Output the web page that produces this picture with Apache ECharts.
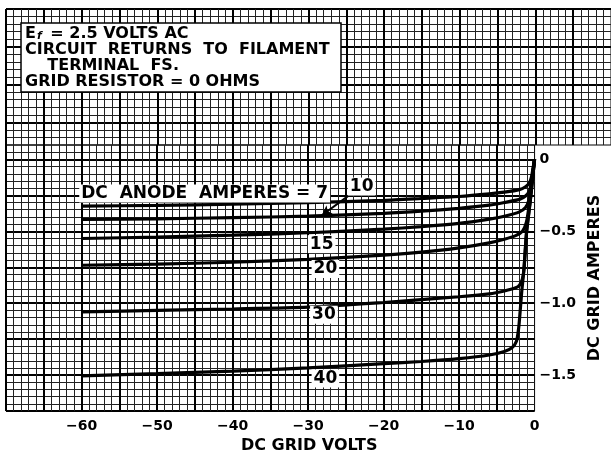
<!DOCTYPE html>
<html><head><meta charset="utf-8">
<script src="https://cdn.jsdelivr.net/npm/echarts@6/dist/echarts.min.js"></script>
<style>html,body{margin:0;padding:0;background:#fff}#c{width:611px;height:459px}</style>
</head><body><div id="c"></div>
<script>
// ---- data (DC grid volts, DC grid amperes) ----
const anodeAmperes = [7, 10, 15, 20, 30, 40];
const curve7  = [[-60,-0.325],[-50,-0.32],[-40,-0.312],[-30,-0.30],[-20,-0.285],[-15,-0.272],[-10,-0.258],[-6,-0.24],[-4,-0.228],[-2,-0.21],[-1.2,-0.19],[-0.7,-0.165],[-0.4,-0.12],[-0.2,-0.06],[0,0]];
const curve10 = [[-60,-0.418],[-50,-0.413],[-40,-0.405],[-30,-0.395],[-20,-0.375],[-15,-0.36],[-10,-0.34],[-6,-0.318],[-4,-0.30],[-2,-0.278],[-1.2,-0.255],[-0.7,-0.22],[-0.4,-0.16],[-0.2,-0.08],[0,0]];
const curve15 = [[-60,-0.55],[-50,-0.54],[-40,-0.527],[-30,-0.51],[-20,-0.485],[-15,-0.468],[-10,-0.445],[-6,-0.415],[-4,-0.395],[-2,-0.365],[-1.2,-0.335],[-0.8,-0.29],[-0.5,-0.2],[-0.25,-0.1],[0,0]];
const curve20 = [[-60,-0.736],[-50,-0.728],[-40,-0.715],[-30,-0.695],[-20,-0.665],[-15,-0.645],[-10,-0.615],[-6,-0.58],[-4,-0.555],[-2.5,-0.53],[-1.6,-0.5],[-1.1,-0.44],[-0.8,-0.35],[-0.5,-0.22],[-0.25,-0.1],[0,0]];
const curve30 = [[-60,-1.06],[-50,-1.05],[-40,-1.04],[-30,-1.027],[-20,-0.995],[-15,-0.975],[-10,-0.955],[-6,-0.935],[-4,-0.915],[-2.5,-0.893],[-2,-0.875],[-1.6,-0.83],[-1.4,-0.76],[-1.05,-0.5],[-0.55,-0.28],[0,0]];
const curve40 = [[-60,-1.505],[-50,-1.49],[-40,-1.472],[-30,-1.45],[-20,-1.42],[-15,-1.405],[-10,-1.385],[-6,-1.36],[-4,-1.335],[-3,-1.31],[-2.4,-1.265],[-2.1,-1.17],[-1.9,-1.05],[-1.7,-0.92],[-1.4,-0.76],[-1.05,-0.5],[-0.55,-0.28],[0,0]];
const curves = [curve7, curve10, curve15, curve20, curve30, curve40];

const labelTexts = ['DC  ANODE  AMPERES = 7', '10', '15', '20', '30', '40'];
const labelX = [-60.3, -22.9, -28.2, -27.7, -27.9, -27.7];
const labelY = [-0.238, -0.189, -0.589, -0.762, -1.08, -1.523];
const arrowFrom = [-24.4, -0.243];
const arrowTo = [-28.2, -0.39];

const noteLines = ['{t|E}{s|f}{t| = 2.5 VOLTS AC}', '{t|CIRCUIT  RETURNS  TO  FILAMENT}', '{t|    TERMINAL  FS.}', '{t|GRID RESISTOR = 0 OHMS}'];
const xName = 'DC GRID VOLTS';
const yName = 'DC GRID AMPERES';

// ---- styling ----
const FONT = 'DejaVu Sans';
const MAJOR = {show: true, lineStyle: {color: '#000', width: 2}, showMaxLine: false};
const MINOR = {show: true, lineStyle: {color: '#222', width: 1}};
const minorTick = {show: false, splitNumber: 5};

function gridAxis(extra) {
  return Object.assign({
    type: 'value', axisLine: {show: false}, axisTick: {show: false},
    axisLabel: {show: false}, splitLine: MAJOR, minorTick: minorTick, minorSplitLine: MINOR
  }, extra);
}

const xFmt = v => {
  if (v < -60.01 || v > 0.01 || Math.abs(v % 10) > 1e-6) return '';
  return v === 0 ? '0' : '\u2212' + Math.abs(v);
};
const yFmt = v => {
  const r = Math.round(v * 100) / 100;
  if (r > 0.001 || Math.abs(r * 2 - Math.round(r * 2)) > 1e-6) return '';
  return r === 0 ? '0' : '\u2212' + Math.abs(r).toFixed(1);
};

const series = curves.map((c, i) => ({
  name: String(anodeAmperes[i]), type: 'line', xAxisIndex: 1, yAxisIndex: 1,
  data: c, showSymbol: false, symbol: 'none', smooth: 0.25,
  lineStyle: {color: '#000', width: 3.2}, z: 3
}));
series.push({
  type: 'scatter', xAxisIndex: 1, yAxisIndex: 1, symbolSize: 0, z: 5,
  itemStyle: {opacity: 1, color: '#000'},
  data: labelX.map((x, i) => ({value: [x, labelY[i]], label: {position: i === 0 ? 'right' : 'inside', distance: 0}})),
  label: {
    show: true, formatter: p => labelTexts[p.dataIndex],
    fontFamily: FONT, fontWeight: 'bold', fontSize: 17, color: '#000', opacity: 1,
    backgroundColor: '#fff', padding: [1, 2, 0, 2]
  },
  markLine: {
    silent: true, symbol: ['none', 'arrow'], symbolSize: [8, 10],
    lineStyle: {color: '#000', width: 2, type: 'solid', opacity: 1}, label: {show: false},
    data: [[{coord: arrowFrom}, {coord: arrowTo}]]
  }
});

const chart = echarts.init(document.getElementById('c'), null, {renderer: 'canvas'});
chart.setOption({
  animation: false,
  backgroundColor: '#fff',
  title: {
    left: 21, top: 23, text: noteLines.join('\n'),
    backgroundColor: '#fff', borderColor: '#000', borderWidth: 1.5, padding: [3, 12, 2, 4],
    textStyle: {
      rich: {
        t: {fontFamily: FONT, fontWeight: 'bold', fontSize: 16, lineHeight: 16, color: '#000'},
        s: {fontFamily: FONT, fontWeight: 'bold', fontStyle: 'italic', fontSize: 11, lineHeight: 16, verticalAlign: 'bottom', color: '#000', padding: [0, 3, 0, 1]}
      }
    }
  },
  grid: [
    {left: 6, right: -2, top: 9, height: 136, show: true, borderColor: '#000', borderWidth: 1},
    {left: 6, right: 74, top: 145, bottom: 35, show: true, borderColor: '#000', borderWidth: 1}
  ],
  xAxis: [
    gridAxis({gridIndex: 0, min: -70, max: 10, interval: 5}),
    gridAxis({gridIndex: 1, min: -70, max: 0, interval: 5, position: 'bottom',
      axisLabel: {show: true, interval: 0, margin: 8, formatter: xFmt, fontFamily: FONT, fontWeight: 'bold', fontSize: 14, color: '#000'},
      name: xName, nameLocation: 'middle', nameGap: 23,
      nameTextStyle: {fontFamily: FONT, fontWeight: 'bold', fontSize: 16, color: '#000', padding: [0, 0, 0, 78]}
    })
  ],
  yAxis: [
    gridAxis({gridIndex: 0, min: -1.0, max: -0.1, interval: 0.25, inverse: true}),
    gridAxis({gridIndex: 1, min: -1.75, max: 0.1, interval: 0.25, position: 'right',
      axisLabel: {show: true, interval: 0, margin: 5, formatter: yFmt, fontFamily: FONT, fontWeight: 'bold', fontSize: 14, color: '#000'},
      name: yName, nameLocation: 'middle', nameGap: 47,
      nameTextStyle: {fontFamily: FONT, fontWeight: 'bold', fontSize: 16, color: '#000'}
    })
  ],
  series: series
});
</script></body></html>
